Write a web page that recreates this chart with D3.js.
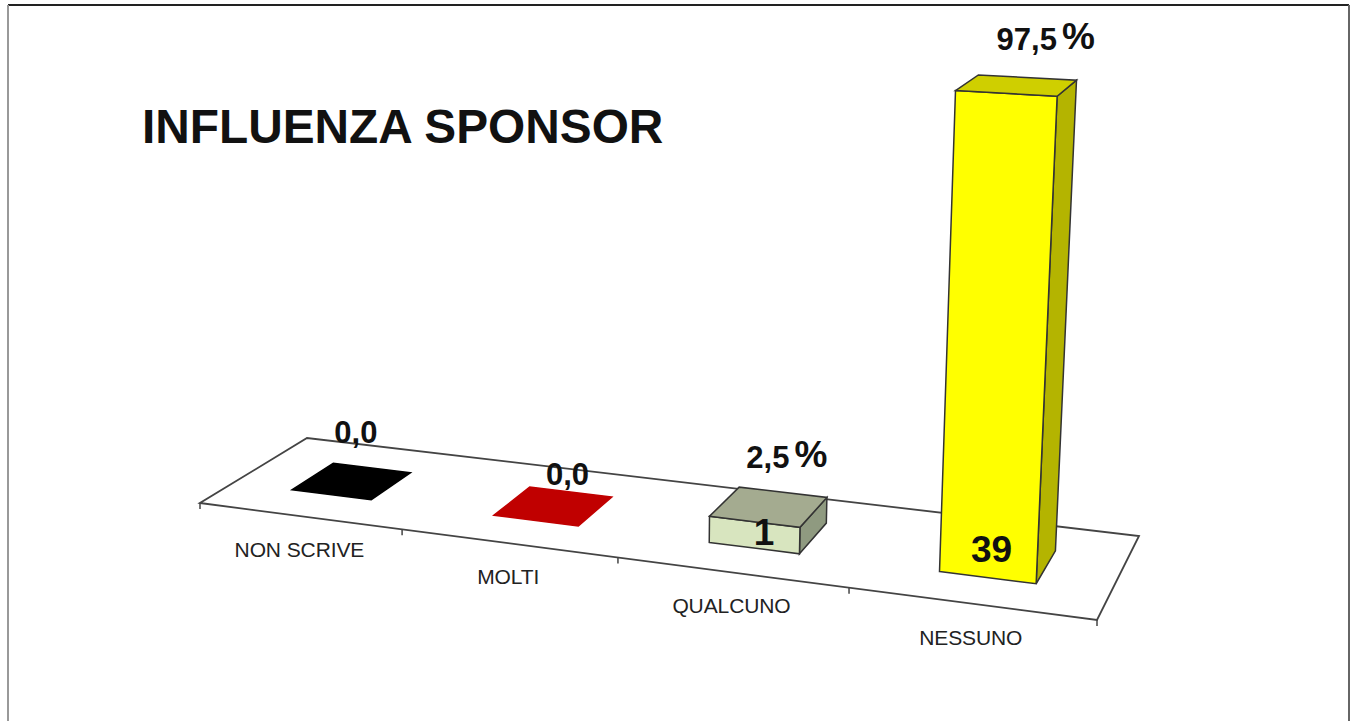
<!DOCTYPE html>
<html>
<head>
<meta charset="utf-8">
<script src="https://cdn.jsdelivr.net/npm/d3@7"></script>
<style>
    html, body { margin: 0; padding: 0; background: #fff; }
    svg { display: block; }
    text { font-family: "Liberation Sans", Arial, sans-serif; fill: #111; }
    .title { font-size: 47.8px; font-weight: bold; }
    .cat { font-size: 21px; letter-spacing: -0.1px; fill: #222; }
    .val { font-size: 31px; font-weight: bold; }
    .pct { font-size: 37px; }
    .count { font-size: 37px; font-weight: bold; }
</style>
</head>
<body>
<svg id="chart" width="1351" height="721"></svg>
<script>
const categories = ["NON SCRIVE", "MOLTI", "QUALCUNO", "NESSUNO"]
const percents = [0, 0, 2.5, 97.5]
const counts = [null, null, 1, 39]
const frontColors = ["#000000", "#c00000", "#d8e5bf", "#ffff00"]
const topColors = ["#000000", "#c00000", "#a4ab90", "#cfcf00"]
const sideColors = ["#000000", "#c00000", "#8f9a80", "#b4b400"]

// floor corners on the page, front-left then anticlockwise
const floor = [[200, 503], [1097, 620], [1139, 536], [307, 438]]
// vanishing point of the verticals, far below the page
const vanish = [609, 10515]
// nudges for the labels, they do not sit centred on the bars
const valueNudge = [[4, -38], [14, -21], [18, -39], [29, -35]]
const countNudge = [null, null, [10, -3], [4, -16]]

const W = 1351, H = 721
var svg = d3.select("#chart")

// unit square -> floor quad
var x0 = floor[0][0], y0 = floor[0][1]
var x1 = floor[1][0], y1 = floor[1][1]
var x2 = floor[2][0], y2 = floor[2][1]
var x3 = floor[3][0], y3 = floor[3][1]
var dx1 = x1 - x2, dx2 = x3 - x2, dx3 = x0 - x1 + x2 - x3
var dy1 = y1 - y2, dy2 = y3 - y2, dy3 = y0 - y1 + y2 - y3
var det = dx1 * dy2 - dx2 * dy1
var g = (dx3 * dy2 - dx2 * dy3) / det
var h = (dx1 * dy3 - dx3 * dy1) / det
var a = x1 - x0 + g * x1, b = x3 - x0 + h * x3
var d = y1 - y0 + g * y1, e = y3 - y0 + h * y3

const heightK = -1 / (vanish[1] - 570)

// u along the categories, v front to back, z height in px
var project = function (u, v, z) {
    let w = g * u + h * v + 1
    let bx = a * u + b * v + x0
    let by = d * u + e * v + y0
    let wRef = g * .9 + 1
    let kz = heightK * wRef * (z || 0)
    return [(bx + kz * vanish[0]) / (w + kz), (by + kz * vanish[1]) / (w + kz)]
}

var xScale = d3.scaleBand().domain(categories).range([0, 1]).paddingInner(.6).paddingOuter(.3)
var depth = d3.scaleLinear().domain([0, 1]).range([.3, .7])
// the value axis of the original does not start at 0, 2.5 is drawn taller than its share
var yScale = d3.scaleLinear().domain([0, 2.5, 97.5]).range([0, 28, 477])

var poly = function (pts) { return pts.map(p => p.join(",")).join(" ") }

// frame
svg.append("line").attr("x1", 8).attr("x2", 1349).attr("y1", 5).attr("y2", 5)
    .style("stroke", "#222").style("stroke-width", 2)
svg.append("line").attr("x1", 8).attr("x2", 8).attr("y1", 5).attr("y2", H)
    .style("stroke", "#999").style("stroke-width", 2)
svg.append("line").attr("x1", 1349).attr("x2", 1349).attr("y1", 5).attr("y2", H)
    .style("stroke", "#666").style("stroke-width", 2)

svg.append("text").classed("title", true).text("INFLUENZA SPONSOR")
    .attr("x", 142).attr("y", 143)

// floor
svg.append("polygon")
    .attr("points", poly([project(0, 0), project(1, 0), project(1, 1), project(0, 1)]))
    .style("fill", "#fff").style("stroke", "#444").style("stroke-width", 1.8)

// ticks on the front edge
d3.range(categories.length + 1).forEach(function (i) {
    let p = project(i / categories.length, 0)
    svg.append("line").attr("x1", p[0]).attr("x2", p[0]).attr("y1", p[1]).attr("y2", p[1] + 6)
        .style("stroke", "#444").style("stroke-width", 1.5)
})

categories.forEach(function (c, i) {
    let u0 = xScale(c), u1 = u0 + xScale.bandwidth()
    let v0 = depth(0), v1 = depth(1)
    let z = yScale(percents[i])
    let stroke = percents[i] > 0 ? "#333" : frontColors[i]
    let bar = svg.append("g")

    if (z > 0) {
        bar.append("polygon")
            .attr("points", poly([project(u1, v0, 0), project(u1, v1, 0), project(u1, v1, z), project(u1, v0, z)]))
            .style("fill", sideColors[i]).style("stroke", stroke).style("stroke-width", 1.5)
        bar.append("polygon")
            .attr("points", poly([project(u0, v0, 0), project(u1, v0, 0), project(u1, v0, z), project(u0, v0, z)]))
            .style("fill", frontColors[i]).style("stroke", stroke).style("stroke-width", 1.5)
    }
    bar.append("polygon")
        .attr("points", poly([project(u0, v0, z), project(u1, v0, z), project(u1, v1, z), project(u0, v1, z)]))
        .style("fill", topColors[i]).style("stroke", stroke).style("stroke-width", 1.5)
})

categories.forEach(function (c, i) {
    let uc = xScale(c) + xScale.bandwidth() / 2
    let z = yScale(percents[i])

    let lab = project((i + .5) / categories.length, 0)
    svg.append("text").classed("cat", true).text(c)
        .attr("x", lab[0]).attr("y", lab[1] + 41)
        .style("text-anchor", "middle")

    let top = project(uc, .5, z)
    let t = svg.append("text").classed("val", true)
        .attr("x", top[0] + valueNudge[i][0]).attr("y", top[1] + valueNudge[i][1])
        .style("text-anchor", "middle")
    t.append("tspan").text(d3.format(".1f")(percents[i]).replace(".", ","))
    if (percents[i] > 0) {
        t.append("tspan").text(" ").style("font-size", "18px")
        t.append("tspan").classed("pct", true).text("%").attr("dy", -1)
    }

    if (counts[i] !== null) {
        let base = project(uc, depth(0))
        svg.append("text").classed("count", true).text(counts[i])
            .attr("x", base[0] + countNudge[i][0]).attr("y", base[1] + countNudge[i][1])
            .style("text-anchor", "middle")
    }
})
</script>
</body>
</html>
